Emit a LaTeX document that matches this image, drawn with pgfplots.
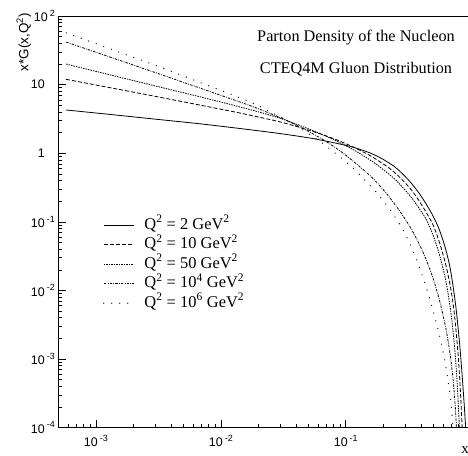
\documentclass[border=0pt]{standalone}
\usepackage{fontspec}
\setmainfont{Liberation Serif}
\newfontfamily\helv{Liberation Sans}
\usepackage{pgfplots}
\pgfplotsset{compat=1.18}

% ROOT-style tick labels: 10 with a raised exponent
\newcommand\tl[1]{\fontsize{12.5}{12.5}\selectfont 10\hspace{2bp}\raisebox{5.5bp}{\fontsize{9}{9}\selectfont #1}}
\newcommand\tlp[1]{\fontsize{12.5}{12.5}\selectfont #1\hphantom{\hspace{2bp}\fontsize{9}{9}\selectfont -1}}

\begin{document}
\begin{tikzpicture}
\begin{axis}[
  scale only axis,
  width=412.4bp, height=411.7bp,
  xmode=log, ymode=log,
  xmin=5e-4, xmax=1, ymin=1e-4, ymax=100,
  axis line style={line width=0.8bp},
  tick align=inside,
  xtick pos=left, ytick pos=left,
  major tick length=8bp, minor tick length=4bp,
  tick style={line width=0.6bp, black},
  tick label style={font=\helv},
  xticklabel style={yshift=-4bp},
  xtick={1e-3,1e-2,1e-1},
  xticklabels={\tl{-3},\tl{-2},\tl{-1}},
  minor xtick={6e-4,7e-4,8e-4,9e-4,2e-3,3e-3,4e-3,5e-3,6e-3,7e-3,8e-3,9e-3,
    2e-2,3e-2,4e-2,5e-2,6e-2,7e-2,8e-2,9e-2,0.2,0.3,0.4,0.5,0.6,0.7,0.8,0.9},
  ytick={1e-4,1e-3,1e-2,1e-1,1,10,100},
  yticklabels={\tl{-4},\tl{-3},\tl{-2},\tl{-1},\tlp{1},\tlp{10},\tl{2}},
  minor ytick={2e-4,3e-4,4e-4,5e-4,6e-4,7e-4,8e-4,9e-4,
    2e-3,3e-3,4e-3,5e-3,6e-3,7e-3,8e-3,9e-3,
    2e-2,3e-2,4e-2,5e-2,6e-2,7e-2,8e-2,9e-2,
    0.2,0.3,0.4,0.5,0.6,0.7,0.8,0.9,2,3,4,5,6,7,8,9,20,30,40,50,60,70,80,90},
  every axis plot/.append style={black, line width=0.8bp, smooth, tension=0.5},
  legend image code/.code={\draw[#1, smooth=false] (0bp,0bp) -- (30bp,0bp);},
  legend cell align=left,
  legend style={at={(rel axis cs:0,1)}, anchor=north west, xshift=44.7bp, yshift=-201bp,
    draw=none, fill=none, inner sep=0pt,
    font=\fontsize{16.5}{16.5}\selectfont,
    nodes={inner sep=0pt, text height=12bp, text depth=4bp},
    row sep=3.5bp, column sep=10bp},
]
% Q^2 = 2
\addplot[solid] coordinates {
 (5.78e-4,4.266) (1.259e-3,3.698) (3.162e-3,3.105) (6.73e-3,2.692) (1.259e-2,2.355)
 (1.849e-2,2.163) (3.162e-2,1.905) (5.623e-2,1.622) (0.1,1.303) (0.1259,1.161)
 (0.1585,1.0) (0.1995,0.813) (0.2512,0.617) (0.3162,0.412) (0.3855,0.263)
 (0.4467,0.174) (0.5012,0.1202) (0.5623,0.0759) (0.6310,0.0398) (0.6918,0.0191)
 (0.7586,6.03e-3) (0.8128,1.778e-3) (0.8511,6.31e-4) (0.8810,2.63e-4) (0.9016,1.38e-4)
 (0.9162,8.32e-5)
};
\addlegendentry{Q\textsuperscript{2} = 2 GeV\textsuperscript{2}}
% Q^2 = 10
\addplot[dash pattern=on 4bp off 2bp] coordinates {
 (5.78e-4,11.94) (1.259e-3,9.12) (3.162e-3,6.61) (6.73e-3,5.05) (1.259e-2,4.03)
 (1.849e-2,3.48) (3.162e-2,2.786) (5.623e-2,2.042) (7.943e-2,1.641) (0.1,1.380)
 (0.1259,1.135) (0.1585,0.912) (0.1845,0.767) (0.2239,0.603) (0.2667,0.457)
 (0.3162,0.331) (0.3631,0.240) (0.4365,0.1413) (0.5012,0.0891) (0.5623,0.0501)
 (0.6310,0.0240) (0.6918,0.01072) (0.7413,4.47e-3) (0.7943,1.122e-3) (0.8222,4.17e-4)
 (0.8472,1.413e-4) (0.8590,8.32e-5)
};
\addlegendentry{Q\textsuperscript{2} = 10 GeV\textsuperscript{2}}
% Q^2 = 50
\addplot[dash pattern=on 1.5bp off 1bp] coordinates {
 (5.78e-4,19.95) (1.259e-3,14.06) (3.162e-3,9.33) (6.73e-3,6.68) (1.259e-2,5.01)
 (1.849e-2,4.17) (3.162e-2,3.126) (5.623e-2,2.089) (7.943e-2,1.585) (0.1,1.288)
 (0.1259,1.023) (0.1585,0.785) (0.1845,0.646) (0.2512,0.407) (0.3162,0.257)
 (0.3412,0.217) (0.3981,0.1455) (0.4467,0.1030) (0.5012,0.0631) (0.5623,0.0331)
 (0.6310,0.01413) (0.6918,5.01e-3) (0.7413,1.585e-3) (0.7762,5.01e-4) (0.8054,1.413e-4)
 (0.8166,7.94e-5)
};
\addlegendentry{Q\textsuperscript{2} = 50 GeV\textsuperscript{2}}
% Q^2 = 10^4
\addplot[dash pattern=on 2.5bp off 1.2bp on 0.8bp off 1.2bp] coordinates {
 (5.78e-4,41.7) (1.259e-3,25.7) (3.162e-3,14.45) (6.73e-3,8.97) (1.259e-2,6.03)
 (1.849e-2,4.70) (3.162e-2,3.162) (5.012e-2,2.089) (7.079e-2,1.455) (9.333e-2,1.030)
 (0.1202,0.713) (0.1633,0.437) (0.2089,0.267) (0.2667,0.1486) (0.3206,0.0895)
 (0.3548,0.0646) (0.3981,0.0427) (0.4467,0.0263) (0.5012,0.01479) (0.5623,7.24e-3)
 (0.6310,2.88e-3) (0.6839,1.189e-3) (0.7161,5.96e-4) (0.7413,2.99e-4) (0.7586,1.603e-4)
 (0.7709,9.12e-5)
};
\addlegendentry{Q\textsuperscript{2} = 10\textsuperscript{4} GeV\textsuperscript{2}}
% Q^2 = 10^6
\addplot[line width=1.3bp, line cap=round, dash pattern=on 0bp off 8bp] coordinates {
 (5.78e-4,56.8) (1.259e-3,33.9) (3.162e-3,18.41) (6.73e-3,10.84) (1.259e-2,7.00)
 (1.849e-2,5.25) (2.924e-2,3.467) (3.981e-2,2.512) (5.08e-2,1.905) (6.918e-2,1.288)
 (9.12e-2,0.861) (0.1130,0.617) (0.1318,0.468) (0.1683,0.295) (0.2218,0.1585)
 (0.2754,0.0871) (0.3206,0.0513) (0.3741,0.0263) (0.4365,0.01175) (0.4932,5.62e-3)
 (0.5572,2.40e-3) (0.6109,1.096e-3) (0.6501,5.75e-4) (0.6839,3.02e-4) (0.7079,1.585e-4)
 (0.7244,9.55e-5)
};
\addlegendentry{Q\textsuperscript{2} = 10\textsuperscript{6} GeV\textsuperscript{2}}

\coordinate (O) at (rel axis cs:0,0);
\coordinate (T) at (rel axis cs:0,1);
\coordinate (R) at (rel axis cs:1,0);
\end{axis}
\node[anchor=base, font=\fontsize{16.3}{16.3}\selectfont] at ([xshift=297.7bp, yshift=-26bp]T)
  {Parton Density of the Nucleon};
\node[anchor=base, font=\fontsize{16.3}{16.3}\selectfont] at ([xshift=297.7bp, yshift=-58bp]T)
  {CTEQ4M Gluon Distribution};
\node[rotate=90, anchor=base east, inner sep=0pt, font=\helv\fontsize{13.5}{13.5}\selectfont]
  at ([xshift=-30bp, yshift=3bp]T) {x*G(x,Q\textsuperscript{2})};
\node[font=\fontsize{15}{15}\selectfont] at ([xshift=-5.7bp, yshift=-22bp]R) {x};
\pgfresetboundingbox
\path[use as bounding box] (O) ++(-58.3bp,-28.3bp) rectangle ++(468bp,456bp);
\end{tikzpicture}
\end{document}
